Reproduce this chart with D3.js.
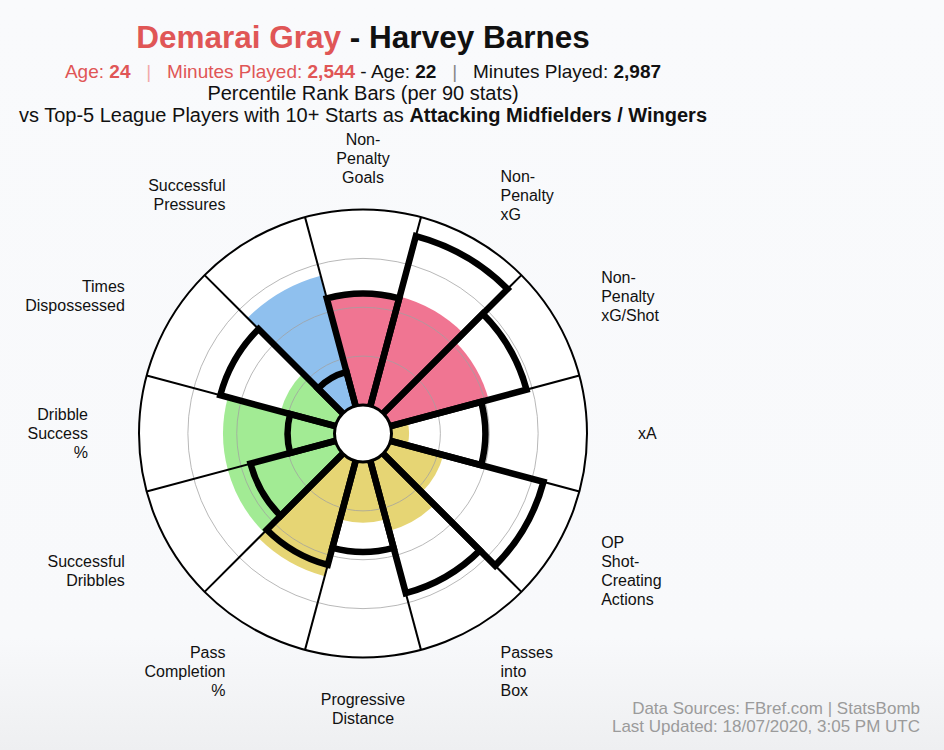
<!DOCTYPE html>
<html>
<head>
<meta charset="utf-8">
<script src="https://cdn.jsdelivr.net/npm/d3@7"></script>
<style>
  body { margin: 0; background: #f8f9fb; }
  svg { display: block; font-family: "Liberation Sans", Arial, Helvetica, sans-serif; }
  .pre { white-space: pre; }
</style>
</head>
<body>
<div class="pizza-wrapper"></div>
<script>
// stats, clockwise from the top
const categories = ["Non-Penalty Goals", "Non-Penalty xG", "Non-Penalty xG/Shot", "xA",
  "OP Shot-Creating Actions", "Passes into Box", "Progressive Distance", "Pass Completion %",
  "Successful Dribbles", "Dribble Success %", "Times Dispossessed", "Successful Pressures"];
const labelLines = [["Non-", "Penalty", "Goals"], ["Non-", "Penalty", "xG"], ["Non-", "Penalty", "xG/Shot"],
  ["xA"], ["OP", "Shot-", "Creating", "Actions"], ["Passes", "into", "Box"], ["Progressive", "Distance"],
  ["Pass", "Completion", "%"], ["Successful", "Dribbles"], ["Dribble", "Success", "%"],
  ["Times", "Dispossessed"], ["Successful", "Pressures"]];
const groups = ["attack", "attack", "attack", "passing", "passing", "passing", "passing", "passing",
  "dribbling", "dribbling", "dribbling", "defending"];

// percentile ranks
const grayValues = [57, 58, 52, 9, 28, 37, 31, 61, 57, 57, 29, 69];
const barnesValues = [57, 90, 72, 48, 81, 70, 46, 55, 45, 24, 61, 18];
const gridTicks = [25, 50, 75];

const players = ["Demarai Gray", "Harvey Barnes"];
const ages = ["24", "22"];
const minutes = ["2,544", "2,987"];

const width = 944, height = 750;
const cx = 363, cy = 433.5;
const holeR = 28.5, outerR = 224, labelR = 275;
const red = "#e05656";

const groupColor = d3.scaleOrdinal()
  .domain(["attack", "passing", "dribbling", "defending"])
  .range(["#f07592", "#e6d574", "#a2eb94", "#8fc0ee"]);

const r = d3.scaleLinear().domain([0, 100]).range([holeR, outerR]);
const step = 2 * Math.PI / categories.length;

let svg = d3.select(".pizza-wrapper")
  .append("svg")
  .attr("width", width)
  .attr("height", height);

let defs = svg.append("defs");
let grad = defs.append("linearGradient")
  .attr("id", "bg")
  .attr("x1", 0).attr("y1", 0).attr("x2", 0).attr("y2", 1);
grad.append("stop").attr("offset", "0%").attr("stop-color", "#f9fafc");
grad.append("stop").attr("offset", "85%").attr("stop-color", "#f8f9fb");
grad.append("stop").attr("offset", "100%").attr("stop-color", "#eeeff1");

svg.append("rect")
  .attr("width", width)
  .attr("height", height)
  .attr("fill", "url(#bg)");

// title block
let title = svg.append("text")
  .attr("x", cx)
  .attr("y", 48)
  .attr("text-anchor", "middle")
  .attr("font-size", 31.5)
  .attr("font-weight", "bold")
  .attr("class", "pre");
title.append("tspan").attr("fill", red).text(players[0]);
title.append("tspan").attr("fill", "#111").text(" - " + players[1]);

let sub = svg.append("text")
  .attr("x", cx)
  .attr("y", 78)
  .attr("text-anchor", "middle")
  .attr("font-size", 19)
  .attr("class", "pre");
[
  ["Age: ", red, "normal"], [ages[0], red, "bold"], ["   |   ", "#f2aaaa", "normal"],
  ["Minutes Played: ", red, "normal"], [minutes[0], red, "bold"],
  [" - Age: ", "#111", "normal"], [ages[1], "#111", "bold"], ["   |   ", "#888", "normal"],
  ["Minutes Played: ", "#111", "normal"], [minutes[1], "#111", "bold"]
].forEach(d => {
  sub.append("tspan").attr("fill", d[1]).attr("font-weight", d[2]).text(d[0]);
});

svg.append("text")
  .attr("x", cx)
  .attr("y", 100)
  .attr("text-anchor", "middle")
  .attr("font-size", 20)
  .attr("fill", "#111")
  .text("Percentile Rank Bars (per 90 stats)");

let vs = svg.append("text")
  .attr("x", cx)
  .attr("y", 122)
  .attr("text-anchor", "middle")
  .attr("font-size", 20)
  .attr("fill", "#111")
  .attr("class", "pre");
vs.append("tspan").text("vs Top-5 League Players with 10+ Starts as ");
vs.append("tspan").attr("font-weight", "bold").text("Attacking Midfielders / Wingers");

// pizza
let g = svg.append("g").attr("transform", `translate(${cx},${cy})`);

g.append("circle")
  .attr("r", outerR)
  .attr("fill", "#fff");

let idx = d3.range(categories.length);

let fillArc = d3.arc()
  .innerRadius(0)
  .outerRadius(i => r(grayValues[i]))
  .startAngle(i => i * step - step / 2)
  .endAngle(i => i * step + step / 2);

g.selectAll(".gray-bar")
  .data(idx)
  .enter()
  .append("path")
  .attr("class", "gray-bar")
  .attr("d", fillArc)
  .attr("fill", i => groupColor(groups[i]));

g.selectAll(".grid")
  .data(gridTicks)
  .enter()
  .append("circle")
  .attr("class", "grid")
  .attr("r", d => r(d))
  .attr("fill", "none")
  .attr("stroke", "#a0a0a0")
  .attr("stroke-opacity", 0.75)
  .attr("stroke-width", 1);

g.selectAll(".sep")
  .data(idx)
  .enter()
  .append("line")
  .attr("class", "sep")
  .attr("x1", i => holeR * Math.sin(i * step + step / 2))
  .attr("y1", i => -holeR * Math.cos(i * step + step / 2))
  .attr("x2", i => outerR * Math.sin(i * step + step / 2))
  .attr("y2", i => -outerR * Math.cos(i * step + step / 2))
  .attr("stroke", "#000")
  .attr("stroke-width", 2);

g.append("circle")
  .attr("r", outerR)
  .attr("fill", "none")
  .attr("stroke", "#000")
  .attr("stroke-width", 2);

let lineArc = d3.arc()
  .innerRadius(10)
  .outerRadius(i => r(barnesValues[i]))
  .startAngle(i => i * step - step / 2)
  .endAngle(i => i * step + step / 2);

g.selectAll(".barnes-bar")
  .data(idx)
  .enter()
  .append("path")
  .attr("class", "barnes-bar")
  .attr("d", lineArc)
  .attr("fill", "none")
  .attr("stroke", "#000")
  .attr("stroke-width", 6.5)
  .attr("stroke-linejoin", "miter");

g.append("circle")
  .attr("r", holeR)
  .attr("fill", "#fff")
  .attr("stroke", "#000")
  .attr("stroke-width", 3);

// labels
let lh = 19;
g.selectAll(".label")
  .data(idx)
  .enter()
  .append("text")
  .attr("class", "label")
  .attr("font-size", 16)
  .attr("fill", "#111")
  .attr("text-anchor", i => {
    let s = Math.sin(i * step);
    return Math.abs(s) < 0.01 ? "middle" : (s > 0 ? "start" : "end");
  })
  .each(function(i) {
    let a = i * step;
    let x = labelR * Math.sin(a);
    let y = -labelR * Math.cos(a);
    let lines = labelLines[i];
    let y0 = y - (lines.length - 1) * lh / 2;
    d3.select(this)
      .selectAll("tspan")
      .data(lines)
      .enter()
      .append("tspan")
      .attr("x", x)
      .attr("y", (d, k) => y0 + k * lh)
      .attr("dy", "0.35em")
      .text(d => d);
  });

// footer
let foot = svg.append("text")
  .attr("x", 920)
  .attr("y", 714)
  .attr("text-anchor", "end")
  .attr("font-size", 17)
  .attr("fill", "#9b9b9b");
foot.append("tspan").attr("x", 920).text("Data Sources: FBref.com | StatsBomb");
foot.append("tspan").attr("x", 920).attr("dy", 18).text("Last Updated: 18/07/2020, 3:05 PM UTC");
</script>
</body>
</html>
